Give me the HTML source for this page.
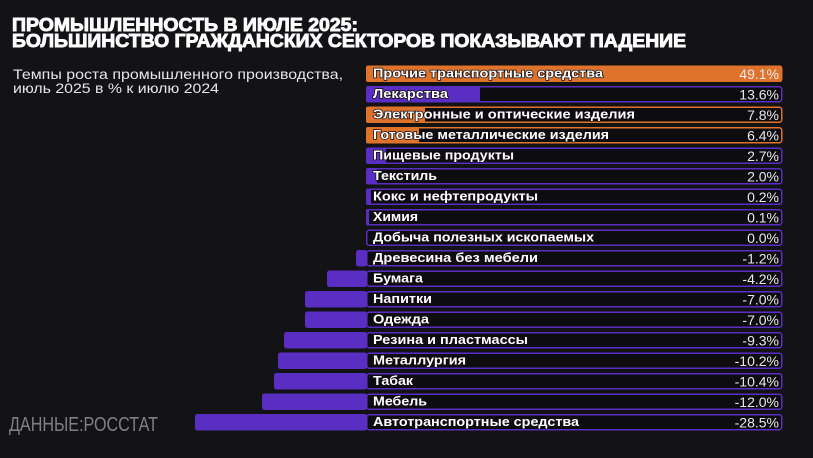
<!DOCTYPE html>
<html><head><meta charset="utf-8"><style>
html,body{margin:0;padding:0;background:#131215;}
svg{display:block;}
text{font-family:"Liberation Sans","Noto Sans CJK SC",sans-serif;}
</style></head><body>
<svg width="813" height="458" viewBox="0 0 813 458" xmlns="http://www.w3.org/2000/svg">
<rect width="813" height="458" fill="#131215"/>
<text x="12" y="31" font-size="18.5" font-weight="bold" fill="#fff" stroke="#fff" stroke-width="0.9" textLength="346" lengthAdjust="spacingAndGlyphs">ПРОМЫШЛЕННОСТЬ В ИЮЛЕ 2025:</text>
<text x="12" y="47" font-size="18.5" font-weight="bold" fill="#fff" stroke="#fff" stroke-width="0.9" textLength="674" lengthAdjust="spacingAndGlyphs">БОЛЬШИНСТВО ГРАЖДАНСКИХ СЕКТОРОВ ПОКАЗЫВАЮТ ПАДЕНИЕ</text>
<text x="13" y="79" font-size="14" fill="#e6e6e6" textLength="330" lengthAdjust="spacingAndGlyphs">Темпы роста промышленного производства,</text>
<text x="13" y="93" font-size="14" fill="#e6e6e6" textLength="206" lengthAdjust="spacingAndGlyphs">июль 2025 в % к июлю 2024</text>
<text x="9" y="431" font-size="20" fill="#808083" textLength="149" lengthAdjust="spacingAndGlyphs">ДАННЫЕ:РОССТАТ</text>

<g id="rows"></g>
<script>
var rows=[
["Прочие транспортные средства","49.1%","o",782,603],
["Лекарства","13.6%","p",480,448],
["Электронные и оптические изделия","7.8%","o",425,635],
["Готовые металлические изделия","6.4%","o",419,609],
["Пищевые продукты","2.7%","p",386,514],
["Текстиль","2.0%","p",377,437],
["Кокс и нефтепродукты","0.2%","p",371,538],
["Химия","0.1%","p",369,418],
["Добыча полезных ископаемых","0.0%","p",366,594],
["Древесина без мебели","-1.2%","n",356,538],
["Бумага","-4.2%","n",327,423],
["Напитки","-7.0%","n",305,432],
["Одежда","-7.0%","n",305,429],
["Резина и пластмассы","-9.3%","n",284,528],
["Металлургия","-10.2%","n",278,466],
["Табак","-10.4%","n",274,413],
["Мебель","-12.0%","n",262,427],
["Автотранспортные средства","-28.5%","n",195,579]
];
var P="#5a2ec2",O="#e0732b";
var ns="http://www.w3.org/2000/svg";
var g=document.getElementById("rows");
function el(t,a,txt){var e=document.createElementNS(ns,t);for(var k in a)e.setAttribute(k,a[k]);if(txt)e.textContent=txt;g.appendChild(e);return e;}
rows.forEach(function(r,i){
  var top=65.5+20.5*i,h=16.5;
  var col=r[2]=="o"?O:P;
  el("rect",{x:366.75,y:top+0.75,width:415,height:h-1.5,rx:2.5,fill:"#0d0c0f"});
  if(r[2]=="n"){
    el("rect",{x:r[3],y:top,width:366-r[3]+1,height:h,rx:2.5,fill:P});
  } else if(r[3]>366){
    el("rect",{x:366,y:top,width:r[3]-366,height:h,rx:2,fill:col});
  }
  el("rect",{x:366.75,y:top+0.75,width:415,height:h-1.5,rx:2.5,fill:"none",stroke:col,"stroke-width":1.5});
  el("text",{x:373,y:top+12,"font-size":13,"font-weight":"bold",fill:"#fff",stroke:"#120d12","stroke-width":1.4,"paint-order":"stroke",textLength:r[4]-373,lengthAdjust:"spacingAndGlyphs"},r[0]);
  el("text",{x:779,y:top+13.3,"font-size":14,fill:"#e8e8e8","text-anchor":"end"},r[1]);
});
</script>
</svg>
</body></html>
